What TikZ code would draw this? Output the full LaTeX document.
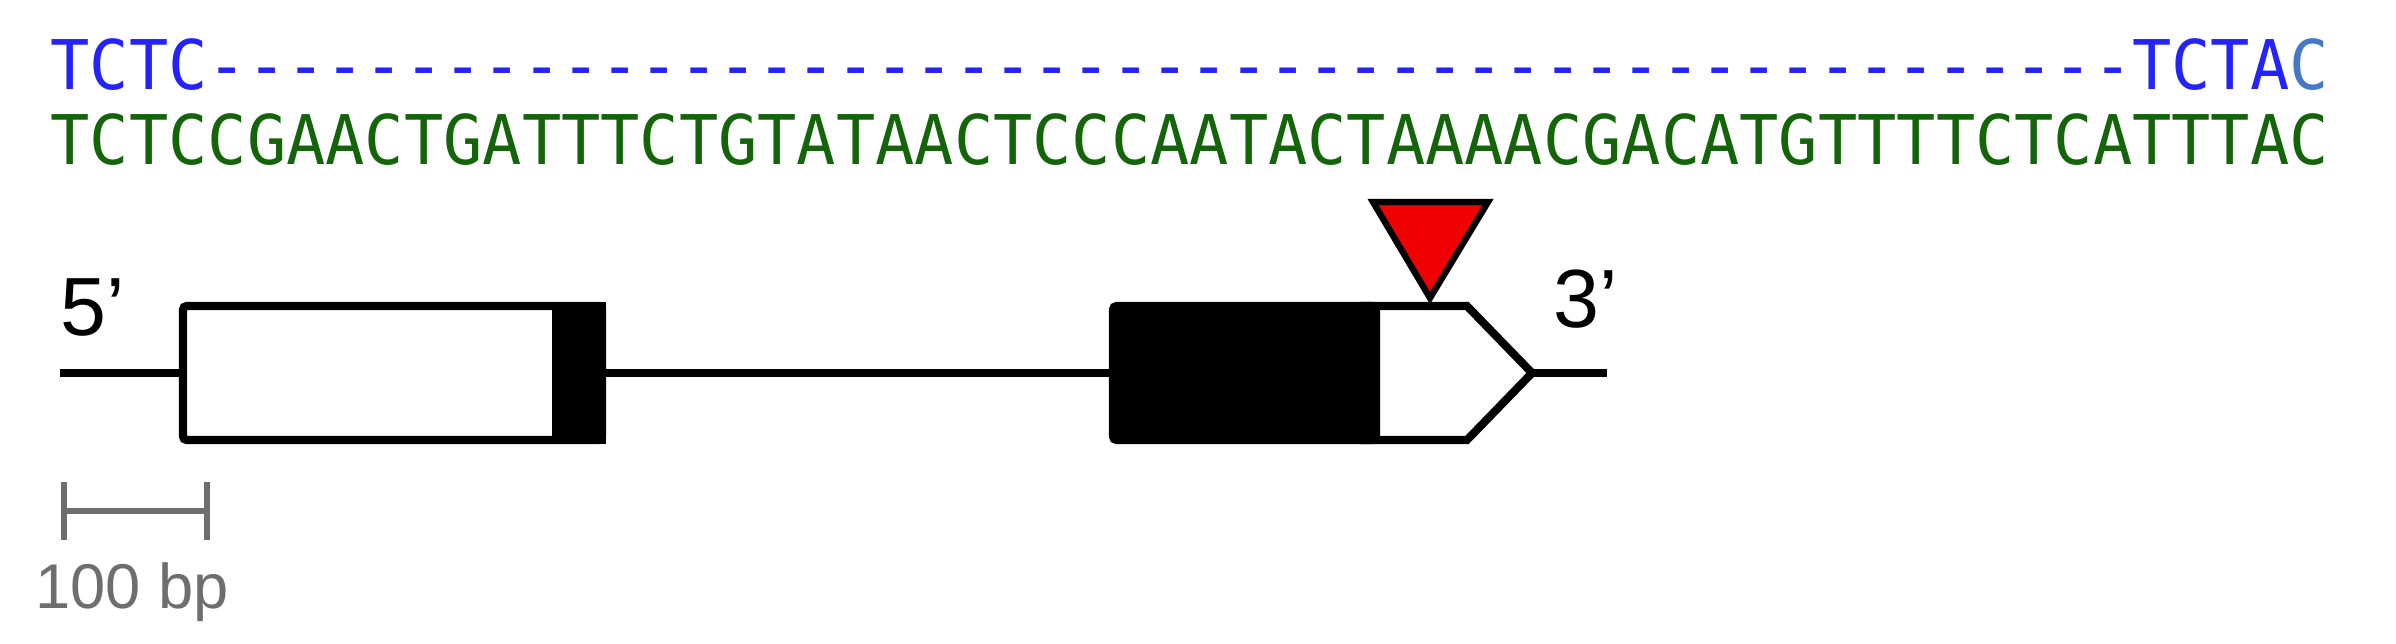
\documentclass[tikz,border=0pt]{standalone}
\usepackage{fontspec}
\usepackage{xcolor}
\usetikzlibrary{arrows.meta, positioning}
\newfontfamily\seqfont[Ligatures=TeXOff]{DejaVu Sans Mono}
\newfontfamily\lblfont{Liberation Sans}
\definecolor{seqblue}{RGB}{35,35,250}
\definecolor{seqlight}{RGB}{70,120,200}
\definecolor{seqgreen}{RGB}{20,100,10}
\definecolor{sitered}{RGB}{240,0,0}
\definecolor{bargray}{RGB}{110,110,110}

\begin{document}
\begin{tikzpicture}[
  seq/.style={inner sep=0pt, anchor=base west, font=\seqfont\fontsize{19.5}{23}\selectfont},
  lbl/.style={inner sep=0pt, anchor=base west, font=\lblfont\fontsize{23.5}{27}\selectfont},
  exon/.style={draw, line width=2.3pt, rounded corners=1pt, inner sep=0pt, minimum height=13.4mm},
  gline/.style={line width=2.3pt},
  site/.style={draw, fill=sitered, line width=1.8pt},
  bar/.style={draw=bargray, line width=1.8pt, {Bar[width=5.8mm]}-{Bar[width=5.8mm]}}
]
\useasboundingbox (0,0) rectangle (23.96,-6.44);

\node[seq, text=seqblue] (ref) at (0.50,-0.90) {\scalebox{0.952}[1]{TCTC-------------------------------------------------TCTA\textcolor{seqlight}{C}}};
\node[seq, text=seqgreen] (read) at (0.50,-1.65) {\scalebox{0.952}[1]{TCTCCGAACTGATTTCTGTATAACTCCCAATACTAAAACGACATGTTTTCTCATTTAC}};

\coordinate (fl) at (0.60,-3.73);
\coordinate (fr) at (16.07,-3.73);
\coordinate (tip) at (15.32,-3.73);
\draw[gline, fill=white] (13.60,-3.06) -- (14.67,-3.06) -- (tip) -- (14.67,-4.40) -- (13.60,-4.40);
\node[exon, fill=white, minimum width=41.9mm] (ex1) at (3.925,-3.73) {};
\fill ([xshift=-5.4mm]ex1.north east) rectangle (ex1.south east);
\node[exon, fill=black, minimum width=26.3mm] (ex2) at (12.445,-3.73) {};
\draw[gline] (fl) -- (ex1.west); \draw[gline] (ex1.east) -- (ex2.west); \draw[gline] (tip) -- (fr);

\coordinate (s1) at (13.73,-2.02);
\coordinate (s2) at (14.88,-2.02);
\coordinate (s3) at (14.30,-2.98);
\draw[site] (s1) -- (s2) -- (s3) -- cycle;

\node[lbl] (five) at (0.60,-3.35) {5’};
\node[lbl] (three) at (15.53,-3.27) {3’};

\coordinate (sb1) at (0.61,-5.11);
\coordinate (sb2) at (2.10,-5.11);
\draw[bar] (sb1) -- (sb2);
\node[lbl, anchor=base, text=bargray, font=\lblfont\fontsize{18}{21}\selectfont] (sblabel) at (1.32,-6.08) {100 bp};
\end{tikzpicture}
\end{document}
